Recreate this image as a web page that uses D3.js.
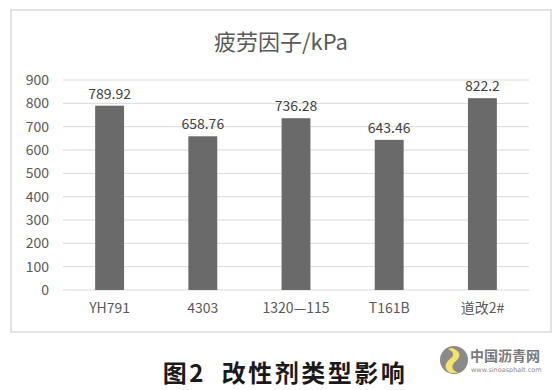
<!DOCTYPE html>
<html>
<head>
<meta charset="utf-8">
<script src="https://cdn.jsdelivr.net/npm/d3@7"></script>
<style>
html,body{margin:0;padding:0;background:#fff;}
svg{display:block;}
</style>
</head>
<body>
<svg id="chart" width="558" height="390"></svg>
<script>
const categories = ["YH791", "4303", "1320\u2014115", "T161B", "道改2#"];
const values = [789.92, 658.76, 736.28, 643.46, 822.2];
const valueLabels = ["789.92", "658.76", "736.28", "643.46", "822.2"];
const yTicks = [0, 100, 200, 300, 400, 500, 600, 700, 800, 900];
const chartTitle = "疲劳因子/kPa";
const caption = "图2  改性剂类型影响";

const svg = d3.select("#chart");
const font = "'Noto Sans CJK SC','Noto Sans',sans-serif";

// outer frame
svg.append("rect").attr("x", 11).attr("y", 10).attr("width", 540).attr("height", 322)
  .attr("fill", "#fff").attr("stroke", "#d9d9d9").attr("stroke-width", 1.5);

const x = d3.scaleBand().domain(categories).range([63, 529]).paddingInner(0.69).paddingOuter(0.345);
const y = d3.scaleLinear().domain([0, 900]).range([290, 80]);

// gridlines
svg.append("g").selectAll("line").data(yTicks).join("line")
  .attr("x1", 63).attr("x2", 529)
  .attr("y1", d => y(d)).attr("y2", d => y(d))
  .attr("stroke", "#d9d9d9").attr("stroke-width", 1);

// y axis labels
const yAxis = d3.axisLeft(y).tickValues(yTicks).tickSize(0).tickPadding(0);
const gy = svg.append("g").attr("transform", "translate(49,0)").call(yAxis);
gy.select(".domain").remove();
gy.selectAll("text").attr("font-family", font).attr("font-size", 14).attr("fill", "#595959");

// x axis labels
const xAxis = d3.axisBottom(x).tickSize(0).tickPadding(0);
const gx = svg.append("g").attr("transform", "translate(0,303)").call(xAxis);
gx.select(".domain").remove();
gx.selectAll("text").attr("font-family", font).attr("font-size", 14).attr("fill", "#595959");

// bars
svg.append("g").selectAll("rect").data(values).join("rect")
  .attr("x", (d, i) => x(categories[i]))
  .attr("width", x.bandwidth())
  .attr("y", d => y(d))
  .attr("height", d => y(0) - y(d))
  .attr("fill", "#6a6a6a");

// value labels
svg.append("g").selectAll("text").data(values).join("text")
  .attr("x", (d, i) => x(categories[i]) + x.bandwidth() / 2)
  .attr("y", d => y(d) - 7)
  .attr("text-anchor", "middle")
  .attr("font-family", font).attr("font-size", 14).attr("fill", "#404040")
  .text((d, i) => valueLabels[i]);

// chart title
svg.append("text").attr("x", 281).attr("y", 50).attr("text-anchor", "middle")
  .attr("font-family", font).attr("font-size", 22).attr("fill", "#595959")
  .text(chartTitle);

// caption
svg.append("text").attr("x", 285).attr("y", 382).attr("text-anchor", "middle")
  .attr("font-family", "'Noto Sans CJK SC',sans-serif").attr("font-weight", "bold")
  .attr("font-size", 24).attr("letter-spacing", 2.5).attr("fill", "#1a1a1a").attr("xml:space", "preserve")
  .text(caption);

// watermark logo
const logo = svg.append("g").attr("transform", "translate(454,360)");
logo.append("circle").attr("r", 14).attr("fill", "#8a8a8a");
logo.append("path").attr("d", "M-2,-12 C6,-9 8,-4 2,1 C-4,6 -2,10 4,13 L-4,13 C-10,9 -10,4 -4,-1 C1,-5 0,-8 -6,-11 Z")
  .attr("fill", "#f2e36b");
svg.append("text").attr("x", 470).attr("y", 361).attr("font-family", font).attr("font-weight", "bold")
  .attr("font-size", 14).attr("fill", "#7a7a7a").text("中国沥青网");
svg.append("text").attr("x", 471).attr("y", 372).attr("font-family", "'DejaVu Sans',sans-serif")
  .attr("font-size", 6.5).attr("fill", "#8a8a8a").text("www.sinoasphalt.com");
</script>
</body>
</html>
